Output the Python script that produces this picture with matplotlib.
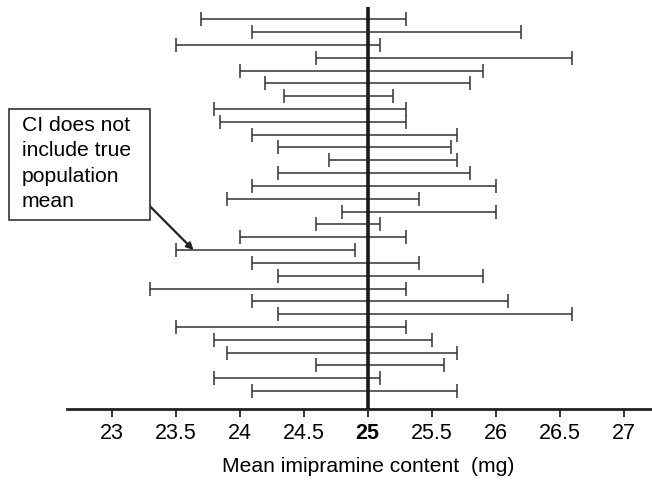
import matplotlib
matplotlib.use("Agg")
import matplotlib.pyplot as plt
from matplotlib.patches import Rectangle
import numpy as np

plt.rcParams["font.family"] = ["Liberation Sans", "DejaVu Sans"]

# 95% confidence intervals for the mean imipramine content of 30 samples
lower = [23.70, 24.10, 23.50, 24.60, 24.00, 24.20, 24.35, 23.80, 23.85, 24.10,
         24.30, 24.70, 24.30, 24.10, 23.90, 24.80, 24.60, 24.00, 23.50, 24.10,
         24.30, 23.30, 24.10, 24.30, 23.50, 23.80, 23.90, 24.60, 23.80, 24.10]
upper = [25.30, 26.20, 25.10, 26.60, 25.90, 25.80, 25.20, 25.30, 25.30, 25.70,
         25.65, 25.70, 25.80, 26.00, 25.40, 26.00, 25.10, 25.30, 24.90, 25.40,
         25.90, 25.30, 26.10, 26.60, 25.30, 25.50, 25.70, 25.60, 25.10, 25.70]
true_mean = 25.0
tick_values = [23, 23.5, 24, 24.5, 25, 25.5, 26, 26.5, 27]
tick_labels = ["23", "23.5", "24", "24.5", "25", "25.5", "26", "26.5", "27"]
missed_index = 18  # interval that misses the true mean

W, H = 652, 480
fig = plt.figure(figsize=(W / 100, H / 100), dpi=100)
ax_left, ax_bottom = 66.8, 408.5  # pixel positions
ax = fig.add_axes([ax_left / W, 1 - ax_bottom / H, 1 - ax_left / W, ax_bottom / H])

lo = np.array(lower)
hi = np.array(upper)
centers = (lo + hi) / 2
half = (hi - lo) / 2
rows = np.arange(len(lo))

ax.errorbar(centers, rows, xerr=half, fmt="none", ecolor="#333333",
            elinewidth=1.1, capsize=4.8, capthick=1.1)

ax.set_xlim(22.65, 22.65 + (W - ax_left) / 128.0)
ax.set_ylim(30.36, -1.505)

ax.plot([true_mean, true_mean], [30.36, -0.98], color="#1a1a1a", lw=2.6,
        solid_capstyle="butt", zorder=3)

for s in ["top", "right", "left"]:
    ax.spines[s].set_visible(False)
ax.spines["bottom"].set_linewidth(2.0)
ax.spines["bottom"].set_color("#222222")
ax.set_yticks([])
ax.set_xticks(tick_values)
ax.set_xticklabels(tick_labels, fontsize=15.5)
ax.tick_params(axis="x", direction="out", length=5.5, width=1.3, color="#222222", pad=5)
for lab in ax.get_xticklabels():
    if lab.get_text() == "25":
        lab.set_fontweight("bold")

ax.set_xlabel("Mean imipramine content  (mg)", fontsize=15.2)
ax.xaxis.set_label_coords((367.7 - ax_left) / (W - ax_left), -(466.7 - ax_bottom) / ax_bottom,
                          transform=ax.transAxes)
ax.xaxis.label.set_va("center")

# callout box
bx0, by0, bx1, by1 = 9, 109, 149.7, 220
fig.patches.append(Rectangle((bx0 / W, 1 - by1 / H), (bx1 - bx0) / W, (by1 - by0) / H,
                             transform=fig.transFigure, fill=True, facecolor="white",
                             edgecolor="#333333", lw=1.2, zorder=5))
fig.text(21.7 / W, 1 - 116 / H, "CI does not\ninclude true\npopulation\nmean",
         fontsize=15.2, ha="left", va="top", linespacing=1.43, zorder=6)

ax.annotate("", xy=(23.64, missed_index), xycoords="data",
            xytext=(149.7 / W, 1 - 206 / H), textcoords="figure fraction",
            arrowprops=dict(arrowstyle="-|>", color="#222222", lw=1.6,
                            mutation_scale=10, shrinkA=0, shrinkB=0),
            annotation_clip=False)

fig.savefig("out.png", dpi=100)
